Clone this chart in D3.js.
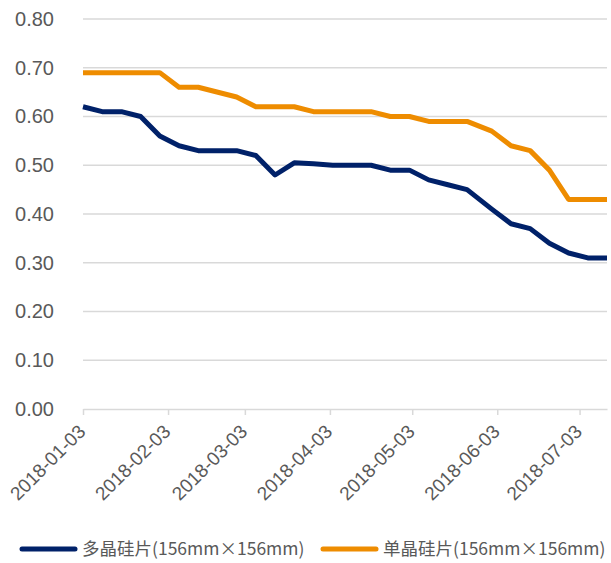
<!DOCTYPE html>
<html>
<head>
<meta charset="utf-8">
<script src="https://cdn.jsdelivr.net/npm/d3@7/dist/d3.min.js"></script>
<style>
  html, body { margin: 0; padding: 0; background: #ffffff; }
  svg { display: block; }
</style>
</head>
<body>
<svg id="chart" width="611" height="563"></svg>
<script>
// Weekly wafer prices (USD per piece), 2018
const dates = [
  "2018-01-03", "2018-01-10", "2018-01-17", "2018-01-24", "2018-01-31",
  "2018-02-07", "2018-02-14", "2018-02-28", "2018-03-07", "2018-03-14",
  "2018-03-21", "2018-03-28", "2018-04-04", "2018-04-11", "2018-04-18",
  "2018-04-25", "2018-05-02", "2018-05-09", "2018-05-16", "2018-05-23",
  "2018-06-01", "2018-06-08", "2018-06-15", "2018-06-22", "2018-06-29",
  "2018-07-06", "2018-07-13"
];
const multiValues = [
  0.62, 0.61, 0.61, 0.60, 0.56,
  0.54, 0.53, 0.53, 0.52, 0.48,
  0.505, 0.503, 0.50, 0.50, 0.50,
  0.49, 0.49, 0.47, 0.46, 0.45,
  0.41, 0.38, 0.37, 0.34, 0.32,
  0.31, 0.31
];
const monoValues = [
  0.69, 0.69, 0.69, 0.69, 0.69,
  0.66, 0.66, 0.64, 0.62, 0.62,
  0.62, 0.61, 0.61, 0.61, 0.61,
  0.60, 0.60, 0.59, 0.59, 0.59,
  0.57, 0.54, 0.53, 0.49, 0.43,
  0.43, 0.43
];
const seriesNames = ["多晶硅片(156mm×156mm)", "单晶硅片(156mm×156mm)"];
const seriesColors = ["#002169", "#EE8C00"];
const xTickLabels = [
  "2018-01-03", "2018-02-03", "2018-03-03", "2018-04-03",
  "2018-05-03", "2018-06-03", "2018-07-03"
];
const yTickValues = [0, 0.1, 0.2, 0.3, 0.4, 0.5, 0.6, 0.7, 0.8];

const parse = d3.timeParse("%Y-%m-%d");
const fmt = d3.timeFormat("%Y-%m-%d");
const xDates = dates.map(parse);

const plotLeft = 83, plotRight = 607, plotTop = 19, plotBottom = 409;
const svg = d3.select("#chart");
const textColor = "#595959";
const gridColor = "#d9d9d9";
const numFont = "'Liberation Sans', Arial, sans-serif";

const x = d3.scaleTime()
  .domain([xDates[0], xDates[xDates.length - 1]])
  .range([plotLeft, plotRight]);
const y = d3.scaleLinear().domain([0, 0.8]).range([plotBottom, plotTop]);

// horizontal gridlines
svg.append("g")
  .selectAll("line")
  .data(yTickValues.filter(v => v > 0))
  .join("line")
  .attr("x1", plotLeft).attr("x2", plotRight)
  .attr("y1", d => y(d)).attr("y2", d => y(d))
  .attr("stroke", gridColor).attr("stroke-width", 1.5);

// y axis labels
const yAxis = svg.append("g")
  .attr("transform", `translate(${plotLeft},0)`)
  .call(d3.axisLeft(y).tickValues(yTickValues).tickFormat(d3.format(".2f")).tickSize(0).tickPadding(29));
yAxis.select(".domain").remove();
yAxis.selectAll("text")
  .attr("fill", textColor)
  .style("font-family", numFont)
  .style("font-size", "20px");

// x axis with slanted date labels
const xAxis = svg.append("g")
  .attr("transform", `translate(0,${plotBottom})`)
  .call(d3.axisBottom(x)
    .tickValues(xTickLabels.map(parse))
    .tickFormat(fmt)
    .tickSizeInner(6).tickSizeOuter(0).tickPadding(6));
xAxis.select(".domain").attr("stroke", gridColor).attr("stroke-width", 1.5);
xAxis.selectAll(".tick line").attr("stroke", gridColor).attr("stroke-width", 1.5);
xAxis.selectAll("text")
  .attr("fill", textColor)
  .style("font-family", numFont)
  .style("font-size", "19px")
  .attr("text-anchor", "end")
  .attr("x", 0)
  .attr("y", 19)
  .attr("dx", -14.5)
  .attr("dy", 0)
  .attr("transform", "rotate(-45)");

// price lines
const series = [multiValues, monoValues];
const line = d3.line()
  .x((d, i) => x(xDates[i]))
  .y(d => y(d));
svg.append("g")
  .selectAll("path")
  .data(series)
  .join("path")
  .attr("d", d => line(d))
  .attr("fill", "none")
  .attr("stroke", (d, i) => seriesColors[i])
  .attr("stroke-width", 5)
  .attr("stroke-linejoin", "round");

// legend
const legendY = 549;
const legendX = [22, 323];
const legend = svg.append("g")
  .selectAll("g")
  .data(seriesNames)
  .join("g")
  .attr("transform", (d, i) => `translate(${legendX[i]},${legendY})`);
legend.append("line")
  .attr("x1", 0).attr("x2", 53)
  .attr("y1", 0).attr("y2", 0)
  .attr("stroke", (d, i) => seriesColors[i])
  .attr("stroke-width", 5)
  .attr("stroke-linecap", "round");
legend.append("text")
  .attr("x", 60).attr("y", 0)
  .attr("dy", "0.35em")
  .attr("fill", textColor)
  .style("font-family", "'Noto Sans CJK SC', sans-serif")
  .style("font-size", "17.5px")
  .text(d => d);
</script>
</body>
</html>
